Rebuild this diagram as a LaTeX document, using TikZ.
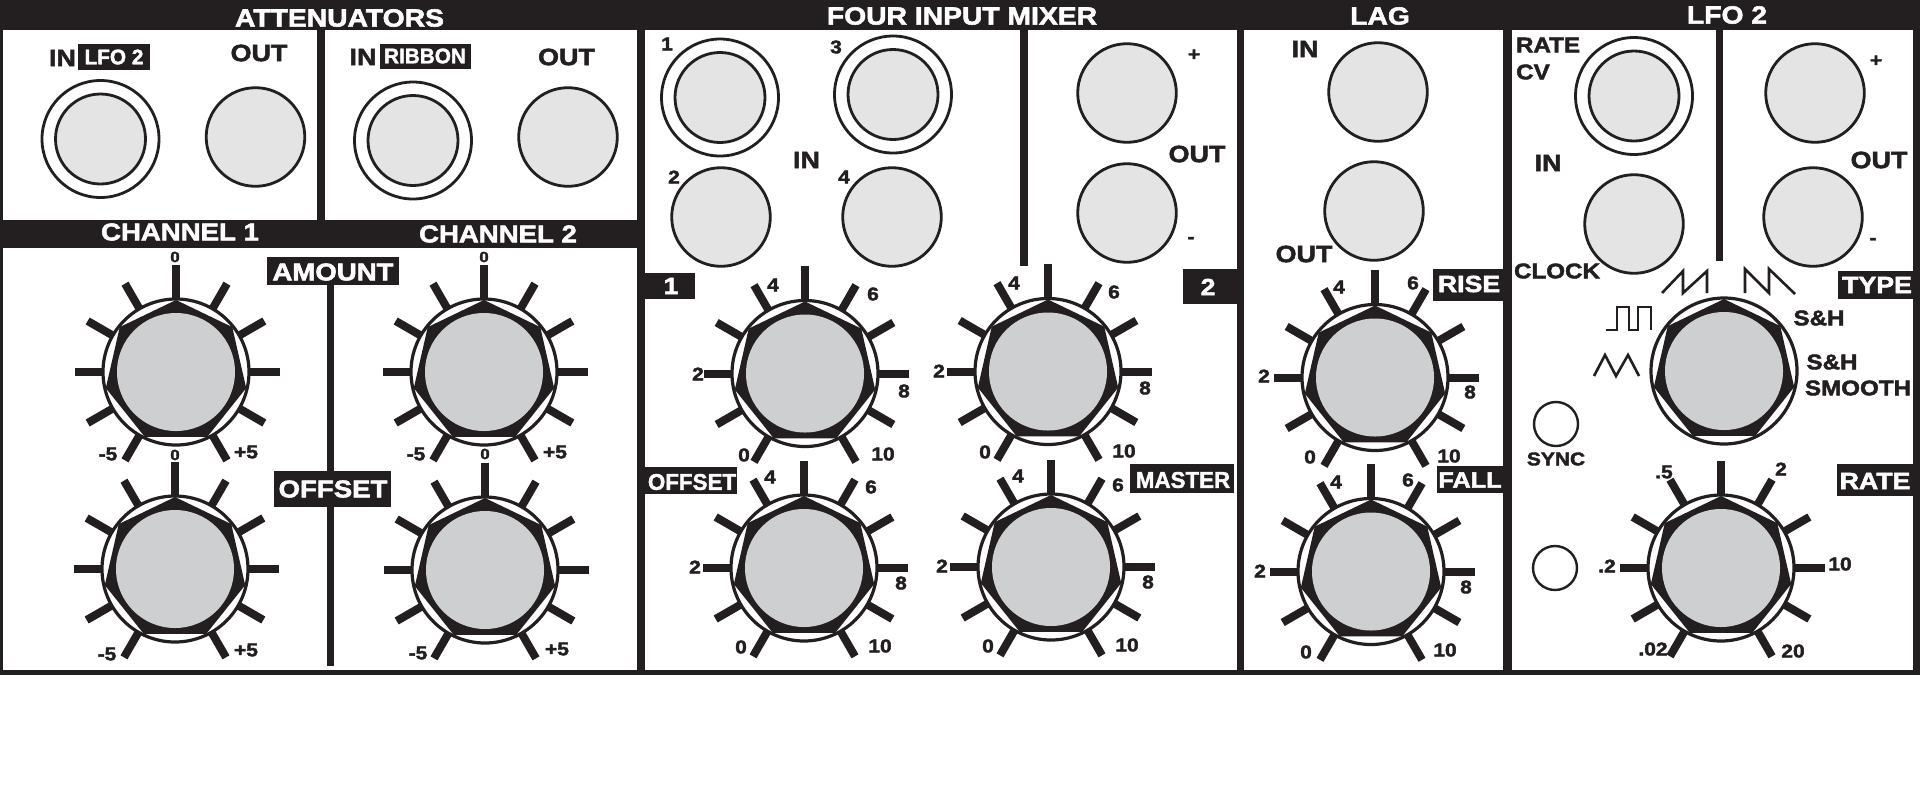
\documentclass[tikz,border=0pt]{standalone}
\usepackage{fontspec}
\newfontfamily\lblfont{Liberation Sans}[FakeStretch=1.14,FakeBold=2.2,BoldFont={Liberation Sans Bold},UprightFont={Liberation Sans Bold}]
\newfontfamily\lblnarrow{Liberation Sans}[FakeStretch=0.98,FakeBold=1.6,BoldFont={Liberation Sans Bold},UprightFont={Liberation Sans Bold}]
\definecolor{ink}{HTML}{231F20}
\definecolor{knobgrey}{HTML}{CDCFD1}
\definecolor{jackgrey}{HTML}{E4E4E4}
\tikzset{
  panel/.style={fill=white,draw=none},
  inkbar/.style={fill=ink,draw=none},
  tick/.style={draw=ink,line width=4pt},
  wave/.style={draw=ink,line width=1.3pt,line join=miter},
  lab/.style={inner sep=0pt,text=ink,font=\lblfont\fontsize{11.8}{12}\selectfont},
  labm/.style={lab,font=\lblfont\fontsize{10.6}{12}\selectfont},
  labs/.style={lab,font=\lblfont\fontsize{9.2}{11}\selectfont},
  labxs/.style={lab,font=\lblfont\fontsize{7.4}{9}\selectfont},
  labh/.style={lab,text=white,font=\lblfont\fontsize{12.4}{13}\selectfont},
  labw/.style={lab,text=white,font=\lblfont\fontsize{12.1}{13}\selectfont},
  labn/.style={lab,text=white,font=\lblnarrow\fontsize{10.6}{12}\selectfont},
  labnl/.style={lab,text=white,font=\lblnarrow\fontsize{11.4}{12}\selectfont},
  labwm/.style={lab,text=white,font=\lblfont\fontsize{11.7}{12}\selectfont},
  labwf/.style={lab,text=white,font=\lblfont\fontsize{11.1}{12}\selectfont},
}
\newcommand{\knobbody}[1]{%
    \node[circle,minimum size=73pt,inner sep=0pt,draw=ink,line width=1.6pt,fill=white] (#1) at (0,0) {};
    \fill[ink] (90:72) -- (38.6:72) -- (-12.9:72) -- (-64.3:72) -- (-115.7:72) -- (-167.1:72) -- (141.4:72) -- cycle;
    \fill[knobgrey] (0,0) circle (59);}
\newcommand{\knob}[3]{%
  \begin{scope}[shift={(#2,#3)},yscale=-1]
    \foreach \a/\r in {90/107.5,60/102,30/102,0/104,-30/102,-60/102,-120/102,-150/102,180/101,150/102,120/102}
      \draw[tick] (\a:72) -- (\a:\r);
    \knobbody{#1}
  \end{scope}}
\newcommand{\plainknob}[3]{%
  \begin{scope}[shift={(#2,#3)},yscale=-1]
    \knobbody{#1}
  \end{scope}}
\newcommand{\jack}[3]{\node[circle,minimum size=49.3pt,inner sep=0pt,draw=ink,line width=1.4pt,fill=jackgrey] (#1) at (#2,#3) {};}
\newcommand{\djack}[3]{%
  \node[circle,minimum size=58.5pt,inner sep=0pt,draw=ink,line width=1.4pt,fill=white] (#1o) at (#2,#3) {};
  \node[circle,minimum size=45pt,inner sep=0pt,draw=ink,line width=1.4pt,fill=jackgrey] (#1) at (#2,#3) {};}
\begin{document}
\begin{tikzpicture}[x=0.5pt,y=-0.5pt]
\useasboundingbox (0,0) rectangle (1920,799);
\fill[white] (0,0) rectangle (1920,799);
\fill[inkbar] (0,0) rectangle (1920,675);
% panels
\fill[panel] (3,30) rectangle (317,220);
\fill[panel] (325,30) rectangle (637,220);
\fill[panel] (3,248) rectangle (637,670);
\fill[panel] (645,30) rectangle (1237,670);
\fill[panel] (1244,30) rectangle (1503,670);
\fill[panel] (1512,30) rectangle (1913,670);
% dividers
\fill[inkbar] (327,285) rectangle (334,666);
\fill[inkbar] (1020,30) rectangle (1028,266);
\fill[inkbar] (1716,30) rectangle (1723,261);
% label boxes
\fill[inkbar] (77.5,44) rectangle (150,70);
\fill[inkbar] (380,43.5) rectangle (470.5,69);
\fill[inkbar] (267,257) rectangle (399,285);
\fill[inkbar] (274,471) rectangle (391,507);
\fill[inkbar] (643,273) rectangle (695,299);
\fill[inkbar] (1183,269) rectangle (1237,304);
\fill[inkbar] (644,467) rectangle (737,494);
\fill[inkbar] (1130,464) rectangle (1234,493);
\fill[inkbar] (1433,269) rectangle (1503,301);
\fill[inkbar] (1437,466) rectangle (1503,493);
\fill[inkbar] (1838,271) rectangle (1915,299);
\fill[inkbar] (1837,464) rectangle (1913,496);
% jacks
\djack{j1}{100.5}{139}
\jack{j2}{255.5}{137}
\djack{j3}{413}{140.5}
\jack{j4}{568}{137}
\djack{j5}{720}{97.5}
\djack{j6}{893}{94.5}
\jack{j7}{721}{217}
\jack{j8}{892}{217}
\jack{j9}{1127}{93}
\jack{j10}{1127}{213}
\jack{j11}{1378}{92}
\jack{j12}{1374}{211}
\djack{j13}{1634}{96}
\jack{j14}{1634}{224}
\jack{j15}{1815}{93}
\jack{j16}{1813}{217}
\node[circle,minimum size=22pt,inner sep=0pt,draw=ink,line width=1.2pt,fill=white] (led1) at (1556,424) {};
\node[circle,minimum size=22pt,inner sep=0pt,draw=ink,line width=1.2pt,fill=white] (led2) at (1555,568) {};
% knobs
\knob{k1}{176}{372}
\knob{k2}{484}{372}
\knob{k3}{175}{569}
\knob{k4}{485}{570}
\knob{k5}{805}{373.5}
\knob{k6}{1048}{371.5}
\knob{k7}{804}{568}
\knob{k8}{1051}{567}
\knob{k9}{1375}{377.5}
\knob{k10}{1371}{571.5}
\plainknob{k11}{1724}{371}
\knob{k12}{1721}{568}
% waveforms
\draw[wave] (1662,293) -- (1683,271) -- (1683,293) -- (1707,271) -- (1707,293);
\draw[wave] (1745,293) -- (1745,269) -- (1769,293) -- (1769,269) -- (1795,294);
\draw[wave] (1606,330) -- (1617,330) -- (1617,307) -- (1629,307) -- (1629,330) -- (1638,330) -- (1638,307) -- (1651,307) -- (1651,330);
\draw[wave] (1594,376) -- (1605,355) -- (1616,376) -- (1628,355) -- (1639,376);
% white labels
\foreach \x/\y/\t [count=\i] in {339.5/18/ATTENUATORS,962/16/FOUR INPUT MIXER,1380/16/LAG,1727/15/LFO 2}
  \node[labh] (h\i) at (\x,\y) {\t};
\foreach \x/\y/\t [count=\i] in {180/232/CHANNEL 1,498/234/CHANNEL 2,333/272/AMOUNT,333/489/OFFSET}
  \node[labw] (w\i) at (\x,\y) {\t};
\foreach \x/\y/\t [count=\i] in {114/57/LFO 2,425/56/RIBBON}
  \node[labn] (v\i) at (\x,\y) {\t};
\foreach \x/\y/\t [count=\i] in {692/482/OFFSET,1183/480/MASTER}
  \node[labnl] (n\i) at (\x,\y) {\t};
\foreach \x/\y/\t [count=\i] in {671/286/1,1208/287/2,1469/284/RISE,1877/285/TYPE,1875/481/RATE}
  \node[labwm] (u\i) at (\x,\y) {\t};
\node[labwf] (fall) at (1470,480) {FALL};
% big black labels
\foreach \x/\y/\t [count=\i] in {62.5/58/IN,259/53/OUT,363/57/IN,566.5/57/OUT,806.5/160/IN,1197/154/OUT,1305/49/IN,1304/254/OUT,1548/163/IN,1879/160/OUT}
  \node[lab] (b\i) at (\x,\y) {\t};
% medium black labels
\foreach \x/\y/\t [count=\i] in {1548/45/RATE,1533/72/CV,1557/271/CLOCK,1819/318/S\&H,1832/362/S\&H,1858/388/SMOOTH}
  \node[labm] (m\i) at (\x,\y) {\t};
% small black labels
\foreach \x/\y/\t [count=\i] in {108/454/-5,246/452/+5,107/654/-5,246/650/+5,416/454/-5,555/452/+5,418/653/-5,557/649/+5,
 667/44/1,836/47/3,674/177/2,844/177/4,1194/55/+,1191/240/-,
 698/374/2,773/285/4,873/294/6,904/391/8,744/455/0,883/454/10,
 939/371/2,1014/283/4,1114/292/6,1145/388/8,985/452/0,1124/451/10,
 695/567/2,770/477/4,871/487/6,901/583/8,741/647/0,880/646/10,
 942/566/2,1018/476/4,1118/485/6,1148/582/8,988/646/0,1127/645/10,
 1264/376/2,1339/287/4,1413/283/6,1470/392/8,1310/457/0,1449/456/10,
 1260/571/2,1336/482/4,1408/480/6,1466/587/8,1306/652/0,1445/650/10,
 1876/61/+,1873/241/-,1556/459/SYNC,1664/472/.5,1781/469/2,1607/566/.2,1840/564/10,1653/649/.02,1793/651/20}
  \node[labs] (s\i) at (\x,\y) {\t};
% very small labels
\foreach \x/\y/\t [count=\i] in {175/257/0,175/455/0,484/257/0,485/454/0}
  \node[labxs] (x\i) at (\x,\y) {\t};
\end{tikzpicture}
\end{document}
